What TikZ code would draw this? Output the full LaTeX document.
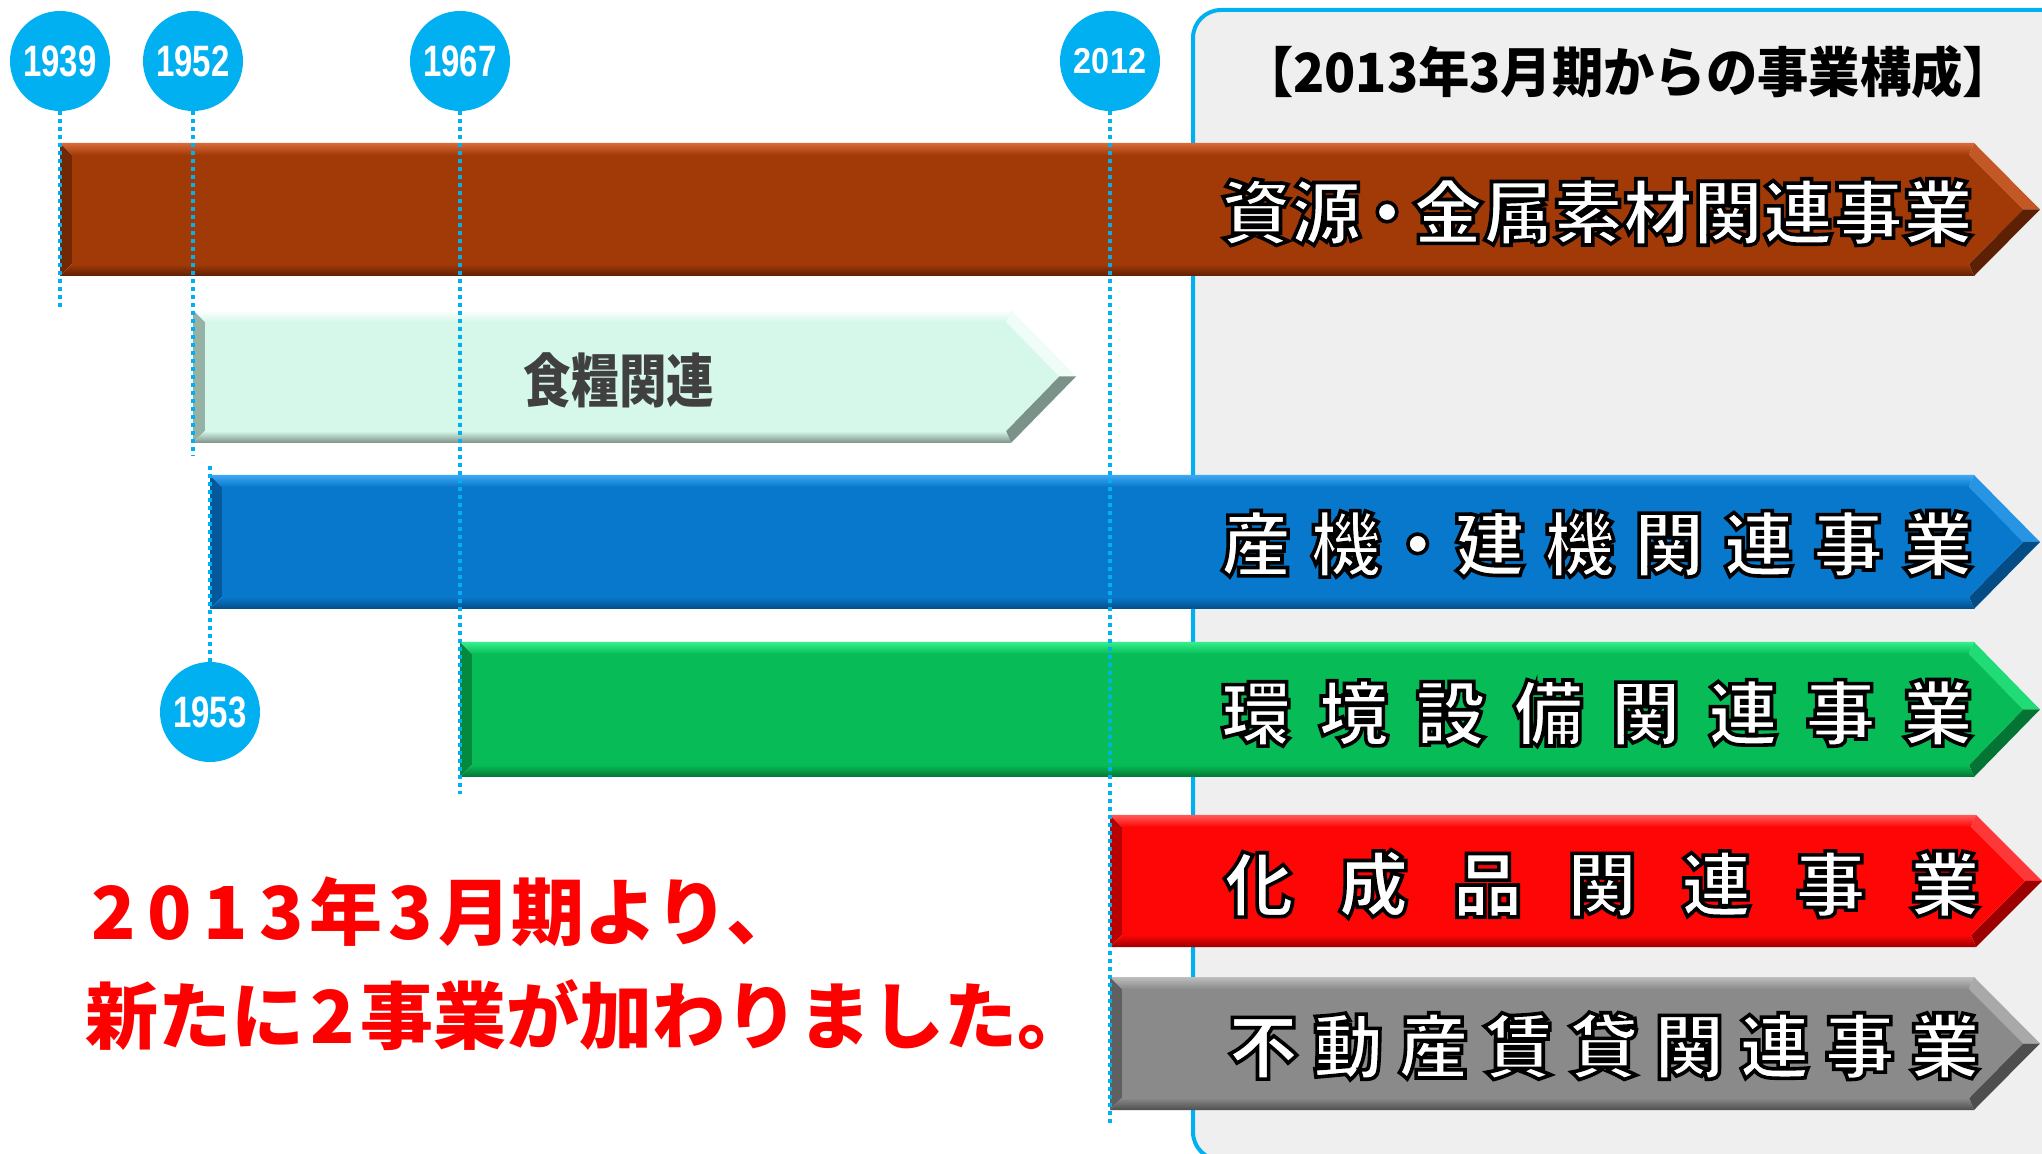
\documentclass[tikz,border=0pt]{standalone}
\usepackage{fontspec}
\usepackage{graphicx}
\newfontfamily\jp{Noto Sans CJK JP}
\newfontfamily\yrf{Liberation Sans}
\definecolor{cyanc}{HTML}{00B0F0}
\definecolor{panelc}{HTML}{EFEFEF}
\definecolor{brM}{HTML}{A23A08}\definecolor{brL}{HTML}{DA6A3A}\definecolor{brD}{HTML}{5E2004}
\definecolor{mnM}{HTML}{D6F8EA}\definecolor{mnL}{HTML}{FFFFFF}\definecolor{mnD}{HTML}{7A9288}
\definecolor{blM}{HTML}{0778CC}\definecolor{blL}{HTML}{3EA8F4}\definecolor{blD}{HTML}{044C86}
\definecolor{gnM}{HTML}{07BC56}\definecolor{gnL}{HTML}{33F08C}\definecolor{gnD}{HTML}{037433}
\definecolor{rdM}{HTML}{FE0606}\definecolor{rdL}{HTML}{FF5A5A}\definecolor{rdD}{HTML}{9A0000}
\definecolor{gyM}{HTML}{8A8A8A}\definecolor{gyL}{HTML}{BEBEBE}\definecolor{gyD}{HTML}{4E4E4E}
\newcommand\outl[1]{\special{pdf:literal direct 2 Tr 0 0 0 RG 1.8 w}#1\special{pdf:literal direct 0 Tr}}
\newcommand\pdot{{\addfontfeatures{CharacterWidth=AlternateProportional}・}}
\newcommand\dg[1]{\makebox[28pt]{#1}}
\newcommand\bevbar[8]{%
 \pgfmathsetmacro\bym{(#2+#3)/2}%
 \pgfmathsetmacro\bxa{#1+12}%
 \pgfmathsetmacro\bya{#2+12}%
 \pgfmathsetmacro\byb{#3-12}%
 \pgfmathsetmacro\bxi{#4-5}%
 \pgfmathsetmacro\bxt{#5-17}%
 \fill[#8!70!#6] (#1,#2) -- (\bxa,\bya) -- (\bxa,\byb) -- (#1,#3) -- cycle;
 \shade[top color=#7, bottom color=#6] (#1,#2) -- (#4,#2) -- (\bxi,\bya) -- (\bxa,\bya) -- cycle;
 \fill[#7!60!#6] (#4,#2) -- (#5,\bym) -- (\bxt,\bym) -- (\bxi,\bya) -- cycle;
 \fill[#8] (#5,\bym) -- (#4,#3) -- (\bxi,\byb) -- (\bxt,\bym) -- cycle;
 \shade[top color=#6, bottom color=#8] (#1,#3) -- (#4,#3) -- (\bxi,\byb) -- (\bxa,\byb) -- cycle;
 \fill[#6] (\bxa,\bya) -- (\bxi,\bya) -- (\bxt,\bym) -- (\bxi,\byb) -- (\bxa,\byb) -- cycle;
}
\tikzset{
 yearc/.style={circle, fill=cyanc, minimum size=50pt, inner sep=0pt, text=white, font=\yrf\bfseries\fontsize{22}{22}\selectfont},
 dotl/.style={draw=cyanc, line width=2pt, dash pattern=on 2pt off 2pt},
 barlbl/.style={text=white, inner sep=0pt, font=\jp\bfseries\fontsize{35}{35}\selectfont},
}
\begin{document}
\begin{tikzpicture}[x=0.5pt,y=-0.5pt]
\clip (0,0) rectangle (2042,1154);
\fill[white] (0,0) rectangle (2042,1154);
% panel
\draw[draw=cyanc, fill=panelc, line width=2pt, rounded corners=14pt] (1193,10) rectangle (2100,1160);
\node[font=\jp\bfseries\fontsize{27}{27}\selectfont, inner sep=0pt, xscale=0.95] (title) at (1628,72) {【2013年3月期からの事業構成】};
% bars
\bevbar{60}{143}{276}{1974}{2040}{brM}{brL}{brD}
\bevbar{193}{310}{443}{1011}{1076}{mnM}{mnL}{mnD}
\bevbar{210}{475}{609}{1974}{2040}{blM}{blL}{blD}
\bevbar{460}{642}{777}{1974}{2040}{gnM}{gnL}{gnD}
\bevbar{1110}{815}{947}{1976}{2042}{rdM}{rdL}{rdD}
\bevbar{1110}{977}{1110}{1974}{2040}{gyM}{gyL}{gyD}
% labels
\node[barlbl] (lbl1) at (1597,212) {\outl{\makebox[376pt][s]{資源\hfill\pdot\hfill 金属素材関連事業}}};
\node[font=\jp\bfseries\fontsize{29}{29}\selectfont, text=black!75, inner sep=0pt, xscale=0.82] (lbl2) at (619,380) {食糧関連};
\node[barlbl] (lbl3) at (1597,544) {\outl{\makebox[376pt][s]{産\hfill 機\hfill\pdot\hfill 建\hfill 機\hfill 関\hfill 連\hfill 事\hfill 業}}};
\node[barlbl] (lbl4) at (1597,713) {\outl{\makebox[376pt][s]{環\hfill 境\hfill 設\hfill 備\hfill 関\hfill 連\hfill 事\hfill 業}}};
\node[barlbl] (lbl5) at (1602,884) {\outl{\makebox[378pt][s]{化\hfill 成\hfill 品\hfill 関\hfill 連\hfill 事\hfill 業}}};
\node[barlbl] (lbl6) at (1604,1046) {\outl{\makebox[376pt][s]{不\hfill 動\hfill 産\hfill 賃\hfill 貸\hfill 関\hfill 連\hfill 事\hfill 業}}};
% year circles
\node[yearc] (y1939) at (60,61) {\scalebox{0.75}[1]{1939}};
\node[yearc] (y1952) at (193,61) {\scalebox{0.75}[1]{1952}};
\node[yearc] (y1967) at (460,61) {\scalebox{0.75}[1]{1967}};
\node[yearc, font=\yrf\bfseries\fontsize{18}{18}\selectfont] (y2012) at (1110,61) {\scalebox{0.9}[1]{2012}};
\node[yearc] (y1953) at (210,712) {\scalebox{0.75}[1]{1953}};
% dotted lines
\coordinate (e1939) at (60,309);
\coordinate (e1952) at (193,456);
\coordinate (e1953) at (210,462);
\coordinate (e1967) at (460,794);
\coordinate (e2012) at (1110,1126);
\draw[dotl] (y1939.south) -- (e1939);
\draw[dotl] (y1952.south) -- (e1952);
\draw[dotl] (y1953.north) -- (e1953);
\draw[dotl] (y1967.south) -- (e1967);
\draw[dotl] (y2012.south) -- (e2012);
% red message
\node[anchor=west, align=left, text=red, inner sep=0pt, font=\jp\bfseries\fontsize{36.5}{52}\selectfont] (msg) at (85,964) {\dg{2}\dg{0}\dg{1}\dg{3}年\dg{3}月期より、\\新たに\dg{2}事業が加わりました。};
\end{tikzpicture}
\end{document}
